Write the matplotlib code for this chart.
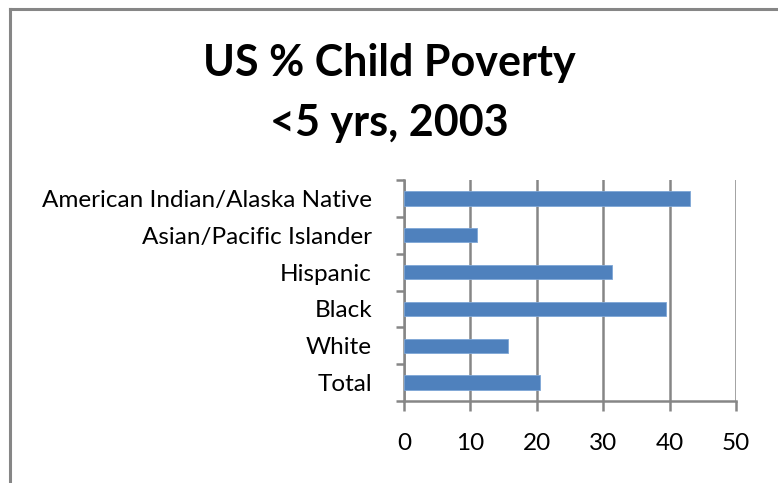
import matplotlib.pyplot as plt
from matplotlib.lines import Line2D

# ── data (bottom to top) ─────────────────────────────────────────────
categories = ["Total", "White", "Black", "Hispanic",
              "Asian/Pacific Islander", "American Indian/Alaska Native"]
values = [20.5, 15.7, 39.5, 31.3, 11.0, 43.0]
xticks = [0, 10, 20, 30, 40, 50]

W, H = 778, 483
plt.rcParams["font.family"] = ["Lato", "DejaVu Sans"]

fig = plt.figure(figsize=(W / 100, H / 100), dpi=100)
ax = fig.add_axes([404 / W, 1 - 401 / H, (736 - 404) / W, (401 - 180) / H])

gray = "#868686"
ax.barh(range(len(categories)), values, height=0.39, color="#4f81bd",
        edgecolor="#7ea6d6", linewidth=0.6, zorder=3)

ax.set_xlim(0, 50)
ax.set_ylim(-0.5, len(categories) - 0.5)
ax.set_xticks(xticks)
ax.set_xticklabels([str(t) for t in xticks])
ax.set_yticks(range(len(categories)))
ax.set_yticklabels(categories)
ax.set_yticks([i - 0.5 for i in range(len(categories) + 1)], minor=True)

ax.grid(axis="x", color=gray, linewidth=1.8, zorder=0)
ax.tick_params(axis="x", length=7, width=1.8, color=gray, labelsize=17.5,
               pad=16)
ax.tick_params(axis="y", which="major", length=0, labelsize=17.5, pad=23)
ax.tick_params(axis="y", which="minor", length=6, width=1.8, color=gray)

for s in ["top", "right"]:
    ax.spines[s].set_visible(False)
for s in ["left", "bottom"]:
    ax.spines[s].set_color(gray)
    ax.spines[s].set_linewidth(1.8)

# ── title ────────────────────────────────────────────────────────────
fig.text(0.5, 1 - 63 / H, "US % Child Poverty", ha="center", va="center",
         fontsize=31, fontweight="bold")
fig.text(0.5, 1 - 123 / H, "<5 yrs, 2003", ha="center", va="center",
         fontsize=31, fontweight="bold")

# ── chart-area border (top and left visible) ─────────────────────────
fig.add_artist(Line2D([10 / W, 1], [1 - 9 / H, 1 - 9 / H],
                      transform=fig.transFigure, color=gray, linewidth=2.2))
fig.add_artist(Line2D([10 / W, 10 / W], [0, 1 - 9 / H],
                      transform=fig.transFigure, color=gray, linewidth=2.2))

fig.savefig("out.png", dpi=100)
